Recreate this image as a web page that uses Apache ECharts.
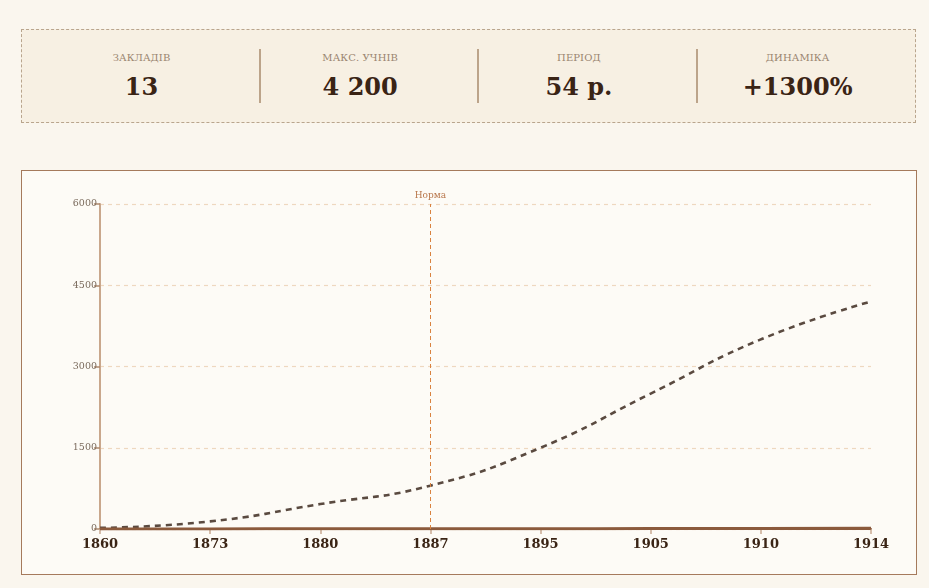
<!DOCTYPE html>
<html>
<head>
<meta charset="utf-8">
<script src="https://cdn.jsdelivr.net/npm/echarts@6/dist/echarts.min.js"></script>
<style>
  html, body { margin: 0; padding: 0; width: 929px; height: 588px; background: #faf6ee; overflow: hidden; font-family: "DejaVu Serif", serif; }
  #stats { position: absolute; left: 21px; top: 29px; width: 895px; height: 94px; border: 1px dashed #b9a58d; background: #f7f0e3; box-sizing: border-box; }
  .col { position: absolute; top: 0; height: 93px; width: 219px; text-align: center; }
  .sep { position: absolute; top: 19px; width: 2px; height: 54px; background: #bca48a; }
  .lab { position: absolute; left: 0; width: 199px; top: 22px; font-size: 10px; letter-spacing: 0.1px; color: #9a8570; text-transform: uppercase; }
  .val { position: absolute; left: 0; width: 199px; top: 42px; font-size: 24px; font-weight: bold; color: #3a2415; }
  #panel { position: absolute; left: 21px; top: 170px; width: 896px; height: 405px; border: 1px solid #a57a5c; background: #fdfbf6; box-sizing: border-box; }
  #chart { position: absolute; left: 0; top: 0; width: 929px; height: 588px; }
</style>
</head>
<body>
<div id="stats"></div>
<div id="panel"></div>
<div id="chart"></div>
<script>
const statLabels = ["Закладів", "Макс. учнів", "Період", "Динаміка"];
const statValues = ["13", "4 200", "54 р.", "+1300%"];

const years = ["1860", "1873", "1880", "1887", "1895", "1905", "1910", "1914"];
const students = [20, 140, 460, 800, 1500, 2500, 3500, 4200];
const schools = [1, 2, 3, 4, 6, 8, 11, 13];
const normYear = "1887";
const normLabel = "Норма";
const yTicks = [0, 1500, 3000, 4500, 6000];

const stats = document.getElementById('stats');
statLabels.forEach((l, i) => {
  const c = document.createElement('div');
  c.className = 'col';
  c.style.left = (20 + i * 218.7) + 'px';
  c.innerHTML = '<div class="lab">' + l + '</div><div class="val">' + statValues[i] + '</div>';
  stats.appendChild(c);
  if (i > 0) {
    const s = document.createElement('div');
    s.className = 'sep';
    s.style.left = (20 + i * 218.7 - 2) + 'px';
    stats.appendChild(s);
  }
});

const chart = echarts.init(document.getElementById('chart'));
chart.setOption({
  animation: false,
  backgroundColor: 'transparent',
  grid: { left: 100, right: 58, top: 204, bottom: 59 },
  xAxis: {
    type: 'category',
    data: years,
    boundaryGap: false,
    axisLine: { lineStyle: { color: '#8b5a3c', width: 2 } },
    axisTick: { alignWithLabel: true, length: 5, lineStyle: { color: '#c9ab93', width: 1.5 } },
    axisLabel: { color: '#3a2415', fontFamily: 'DejaVu Serif', fontWeight: 'bold', fontSize: 13, margin: 9 },
    splitLine: { show: false }
  },
  yAxis: {
    type: 'value',
    min: yTicks[0],
    max: yTicks[yTicks.length - 1],
    interval: 1500,
    axisLine: { show: true, lineStyle: { color: '#c9a78c', width: 2 } },
    axisTick: { show: true, length: 6, lineStyle: { color: '#b08a6e', width: 1.5 } },
    axisLabel: { color: '#7a6a5c', fontFamily: 'DejaVu Serif', fontSize: 9.5, margin: 3, formatter: v => String(v) },
    splitLine: { show: true, lineStyle: { color: '#eed8bf', type: [4, 4], width: 1.2 } }
  },
  series: [
    {
      name: 'Учні',
      type: 'line',
      data: students,
      smooth: true,
      symbol: 'none',
      lineStyle: { color: '#5a4a40', width: 2.6, type: [6, 5] },
      z: 3,
      markLine: {
        silent: true,
        symbol: 'none',
        data: [{ xAxis: normYear }],
        lineStyle: { color: '#d9823f', type: [4, 3], width: 1 },
        label: { show: true, position: 'end', formatter: normLabel, color: '#b8764a', fontFamily: 'DejaVu Serif', fontSize: 9, distance: 4 }
      }
    },
    {
      name: 'Заклади',
      type: 'line',
      data: schools,
      smooth: true,
      symbol: 'none',
      lineStyle: { color: '#8b5a3c', width: 3 },
      z: 4
    }
  ]
});
</script>
</body>
</html>
